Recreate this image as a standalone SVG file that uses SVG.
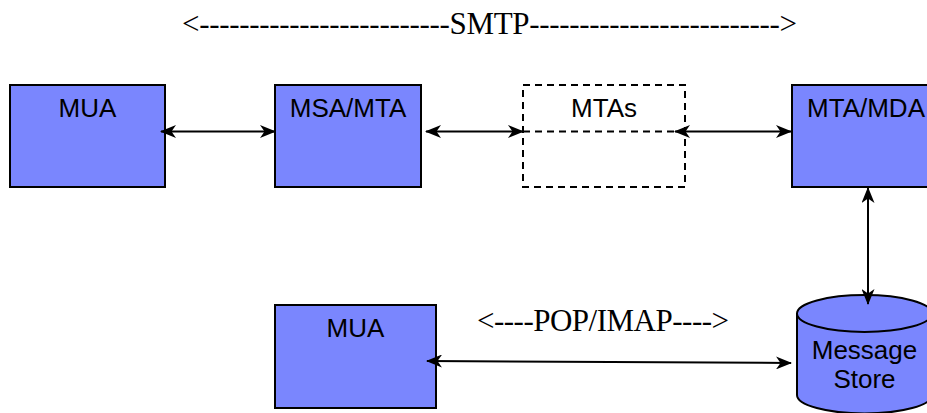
<svg xmlns="http://www.w3.org/2000/svg" width="927" height="413" viewBox="0 0 927 413">
<style>
.box{fill:#7a86fe;stroke:#000;stroke-width:2}
.dbox{fill:#fff;stroke:#000;stroke-width:2;stroke-dasharray:7,5}
.lbl{font-family:"Liberation Sans",Arial,sans-serif;font-size:26px;fill:#000;text-anchor:middle}
.ser{font-family:"Liberation Serif","Times New Roman",serif;font-size:31px;fill:#000}
.con{stroke:#000;stroke-width:2;fill:none;marker-start:url(#ah);marker-end:url(#ah)}
</style>
<defs>
<marker id="ah" viewBox="0 0 16 13" refX="15" refY="6.5" markerWidth="16" markerHeight="13" markerUnits="userSpaceOnUse" orient="auto-start-reverse">
<path d="M0,0 L16,6.5 L0,13 L4.5,6.5 z" fill="#000"/>
</marker>
</defs>
<rect width="927" height="413" fill="#fff"/>
<text class="ser" x="182" y="34" textLength="615" lengthAdjust="spacing">&lt;-------------------------SMTP-------------------------&gt;</text>
<text class="ser" x="477" y="331" textLength="252" lengthAdjust="spacing">&lt;----POP/IMAP----&gt;</text>
<g id="mua1"><rect class="box" x="10" y="85" width="155" height="102"/><text class="lbl" x="87.5" y="117">MUA</text></g>
<g id="msa"><rect class="box" x="275" y="85" width="146" height="102"/><text class="lbl" x="348" y="117">MSA/MTA</text></g>
<g id="mtas"><rect class="dbox" x="523" y="85" width="162" height="102"/><line x1="523" y1="131.5" x2="685" y2="131.5" stroke="#000" stroke-width="2" stroke-dasharray="7,5"/><text class="lbl" x="604" y="117">MTAs</text></g>
<g id="mda"><rect class="box" x="792" y="85" width="148" height="102"/><text class="lbl" x="866" y="117">MTA/MDA</text></g>
<g id="mua2"><rect class="box" x="275" y="305" width="161" height="103"/><text class="lbl" x="355.5" y="337">MUA</text></g>
<g id="store">
<path class="box" d="M797,313.5 L797,395 A67.5,18.5 0 0 0 932,395 L932,313.5 A67.5,18.5 0 0 0 797,313.5 Z"/>
<path d="M797,313.5 A67.5,18.5 0 0 0 932,313.5" fill="none" stroke="#000" stroke-width="2"/>
<text class="lbl" x="864.5" y="359">Message</text>
<text class="lbl" x="864.5" y="388">Store</text>
</g>
<g id="connectors">
<line class="con" x1="161" y1="131.5" x2="275" y2="131.5"/>
<line class="con" x1="426" y1="131.5" x2="523" y2="131.5"/>
<line class="con" x1="675" y1="131.5" x2="791" y2="131.5"/>
<line class="con" x1="868" y1="188" x2="868" y2="304"/>
<line class="con" x1="427" y1="361" x2="791" y2="363"/>
</g>
</svg>
